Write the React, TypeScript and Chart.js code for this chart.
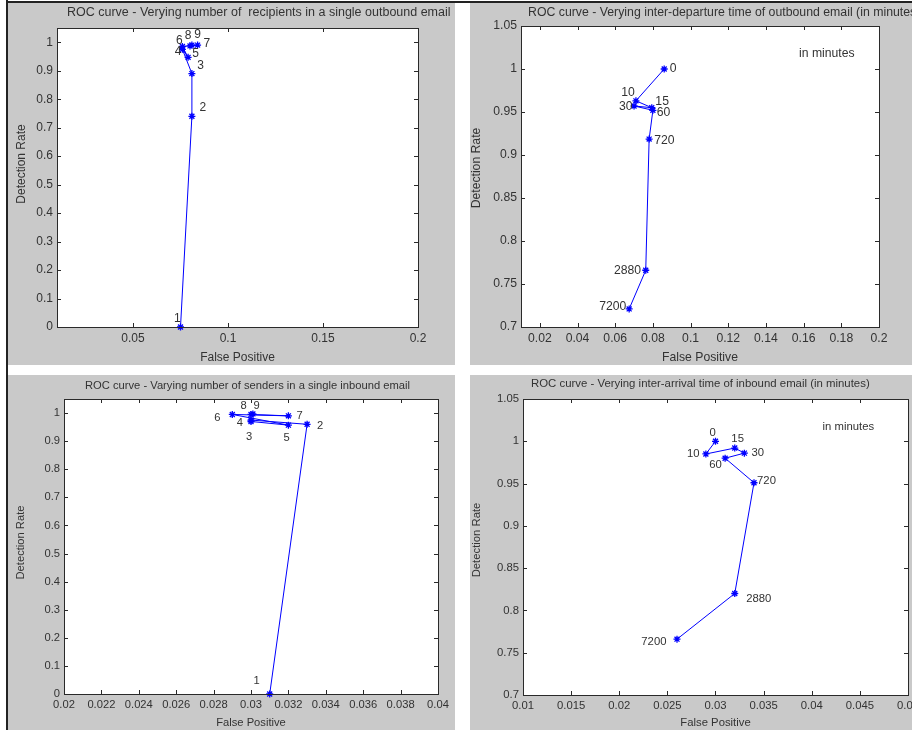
import React, { useEffect, useRef } from 'react';
import { Chart, registerables } from 'chart.js';

Chart.register(...registerables);

// ---------- Data ----------
// Panel 1: number of recipients in a single outbound email
const RECIP_LABELS = ['1', '2', '3', '4', '5', '6', '7', '8', '9'];
const RECIP_FP = [0.075, 0.081, 0.081, 0.076, 0.079, 0.076, 0.084, 0.080, 0.081];
const RECIP_DR = [0, 0.74, 0.89, 0.975, 0.947, 0.985, 0.99, 0.987, 0.99];
const RECIP_TEXT_FP = [0.0733, 0.0867, 0.0856, 0.0737, 0.083, 0.0744, 0.0888, 0.079, 0.084];
const RECIP_TEXT_DR = [0.03, 0.77, 0.916, 0.966, 0.96, 1.007, 0.994, 1.024, 1.027];

// Panel 2: inter-departure time of outbound email (minutes)
const DEP_LABELS = ['0', '10', '15', '30', '60', '720', '2880', '7200'];
const DEP_FP = [0.086, 0.071, 0.0794, 0.07, 0.08, 0.078, 0.0762, 0.0674];
const DEP_DR = [1.0, 0.963, 0.955, 0.957, 0.952, 0.9185, 0.766, 0.721];
const DEP_TEXT_FP = [0.0907, 0.0668, 0.0849, 0.0656, 0.0856, 0.0861, 0.0665, 0.0587];
const DEP_TEXT_DR = [1.001, 0.972, 0.962, 0.956, 0.949, 0.917, 0.766, 0.724];

// Panel 3: number of senders in a single inbound email
const SEND_LABELS = ['1', '2', '3', '4', '5', '6', '7', '8', '9'];
const SEND_FP = [0.031, 0.033, 0.03, 0.03, 0.032, 0.029, 0.032, 0.03, 0.0301];
const SEND_DR = [0, 0.96, 0.975, 0.97, 0.957, 0.995, 0.99, 0.995, 0.997];
const SEND_TEXT_FP = [0.0303, 0.0337, 0.0299, 0.0294, 0.0319, 0.0282, 0.0326, 0.0296, 0.0303];
const SEND_TEXT_DR = [0.046, 0.954, 0.914, 0.964, 0.911, 0.982, 0.99, 1.025, 1.025];

// Panel 4: inter-arrival time of inbound email (minutes)
const ARR_LABELS = ['0', '10', '15', '30', '60', '720', '2880', '7200'];
const ARR_FP = [0.03, 0.029, 0.032, 0.033, 0.031, 0.034, 0.032, 0.026];
const ARR_DR = [1.0, 0.985, 0.992, 0.986, 0.98, 0.951, 0.82, 0.766];
const ARR_TEXT_FP = [0.0297, 0.0277, 0.0323, 0.0344, 0.03, 0.0353, 0.0345, 0.0236];
const ARR_TEXT_DR = [1.0098, 0.9855, 1.003, 0.9866, 0.9724, 0.953, 0.814, 0.763];

// Tick values
const X_TICKS_A = [0.05, 0.1, 0.15, 0.2];
const X_TICKS_B = [0.02, 0.04, 0.06, 0.08, 0.1, 0.12, 0.14, 0.16, 0.18, 0.2];
const X_TICKS_C = [0.02, 0.022, 0.024, 0.026, 0.028, 0.03, 0.032, 0.034, 0.036, 0.038, 0.04];
const X_TICKS_D = [0.01, 0.015, 0.02, 0.025, 0.03, 0.035, 0.04, 0.045, 0.05];
const Y_TICKS_FULL = [0, 0.1, 0.2, 0.3, 0.4, 0.5, 0.6, 0.7, 0.8, 0.9, 1];
const Y_TICKS_TOP = [0.7, 0.75, 0.8, 0.85, 0.9, 0.95, 1, 1.05];

const NOTE_TEXT = 'in minutes';
const X_TITLE = 'False Positive';
const Y_TITLE = 'Detection Rate';

// ---------- Styles ----------
const FONT_FAMILY = '"Liberation Sans", Arial, Helvetica, sans-serif';
const TEXT_COLOR = '#333333';
const LINE_COLOR = '#0000ff';
const GRAY = '#c9c9c9';

type PanelCfg = {
  left: number; top: number; w: number; h: number;
  area: { l: number; r: number; t: number; b: number };
  title: string; titleX: number; titleY: number; titleSize: number;
  fontSize: number;
  xMin: number; xMax: number; yMin: number; yMax: number;
  xTicks: number[]; yTicks: number[];
  xs: number[]; ys: number[]; labels: string[]; lx: number[]; ly: number[];
  note?: { x: number; y: number };
  yTitleX: number; yTitleY: number; xTitlePad: number;
};

const PANELS: PanelCfg[] = [
  {
    left: 8, top: 3, w: 447, h: 362,
    area: { l: 49, r: 410, t: 25, b: 324 },
    title: 'ROC curve - Verying number of  recipients in a single outbound email',
    titleX: 59, titleY: 10, titleSize: 12.5, fontSize: 12,
    xMin: 0.01, xMax: 0.2, yMin: 0, yMax: 1.05,
    xTicks: X_TICKS_A, yTicks: Y_TICKS_FULL,
    xs: RECIP_FP, ys: RECIP_DR, labels: RECIP_LABELS, lx: RECIP_TEXT_FP, ly: RECIP_TEXT_DR,
    yTitleX: 13.7, yTitleY: 161, xTitlePad: 5.8,
  },
  {
    left: 470, top: 3, w: 460, h: 362,
    area: { l: 51, r: 409, t: 23, b: 324 },
    title: 'ROC curve - Verying inter-departure time of outbound email (in minutes)',
    titleX: 58, titleY: 10, titleSize: 12.3, fontSize: 12.2,
    xMin: 0.01, xMax: 0.2, yMin: 0.7, yMax: 1.05,
    xTicks: X_TICKS_B, yTicks: Y_TICKS_TOP,
    xs: DEP_FP, ys: DEP_DR, labels: DEP_LABELS, lx: DEP_TEXT_FP, ly: DEP_TEXT_DR,
    note: { x: 0.1723, y: 1.0175 },
    yTitleX: 7, yTitleY: 165, xTitlePad: 3.8,
  },
  {
    left: 8, top: 375, w: 447, h: 355,
    area: { l: 56, r: 430, t: 24, b: 319 },
    title: 'ROC curve - Varying number of senders in a single inbound email',
    titleX: 77, titleY: 11, titleSize: 11.2, fontSize: 11.2,
    xMin: 0.02, xMax: 0.04, yMin: 0, yMax: 1.05,
    xTicks: X_TICKS_C, yTicks: Y_TICKS_FULL,
    xs: SEND_FP, ys: SEND_DR, labels: SEND_LABELS, lx: SEND_TEXT_FP, ly: SEND_TEXT_DR,
    yTitleX: 12.7, yTitleY: 167.5, xTitlePad: 2.2,
  },
  {
    left: 470, top: 375, w: 460, h: 355,
    area: { l: 53, r: 438, t: 24, b: 320 },
    title: 'ROC curve - Verying inter-arrival time of inbound email (in minutes)',
    titleX: 61, titleY: 8.5, titleSize: 11.4, fontSize: 11.3,
    xMin: 0.01, xMax: 0.05, yMin: 0.7, yMax: 1.05,
    xTicks: X_TICKS_D, yTicks: Y_TICKS_TOP,
    xs: ARR_FP, ys: ARR_DR, labels: ARR_LABELS, lx: ARR_TEXT_FP, ly: ARR_TEXT_DR,
    note: { x: 0.0438, y: 1.017 },
    yTitleX: 7, yTitleY: 165, xTitlePad: 1.4,
  },
];

const fmt = (v: number) => String(Number(Number(v).toFixed(4)));

function Panel({ cfg }: { cfg: PanelCfg }) {
  const ref = useRef<HTMLCanvasElement | null>(null);

  useEffect(() => {
    const canvas = ref.current;
    if (!canvas) return;
    const font = { size: cfg.fontSize, family: FONT_FAMILY };

    const framePlugin = {
      id: 'matlabFrame',
      beforeDraw(chart: any) {
        const { ctx, chartArea: a } = chart;
        ctx.save();
        ctx.fillStyle = '#ffffff';
        ctx.fillRect(a.left, a.top, a.right - a.left, a.bottom - a.top);
        ctx.restore();
      },
      afterDraw(chart: any) {
        const { ctx, chartArea: a, scales } = chart;
        const xs = scales.x;
        const ys = scales.y;
        ctx.save();
        // box
        ctx.strokeStyle = '#2a2a2a';
        ctx.lineWidth = 1;
        ctx.strokeRect(Math.round(a.left) + 0.5, Math.round(a.top) + 0.5,
          Math.round(a.right - a.left), Math.round(a.bottom - a.top));
        // inward ticks on all four sides
        const TL = 4;
        ctx.beginPath();
        for (const v of cfg.xTicks) {
          const px = Math.round(xs.getPixelForValue(v)) + 0.5;
          ctx.moveTo(px, a.bottom); ctx.lineTo(px, a.bottom - TL);
          ctx.moveTo(px, a.top); ctx.lineTo(px, a.top + TL);
        }
        for (const v of cfg.yTicks) {
          const py = Math.round(ys.getPixelForValue(v)) + 0.5;
          ctx.moveTo(a.left, py); ctx.lineTo(a.left + TL, py);
          ctx.moveTo(a.right, py); ctx.lineTo(a.right - TL, py);
        }
        ctx.stroke();

        // point labels
        ctx.fillStyle = TEXT_COLOR;
        ctx.font = `${cfg.fontSize}px ${FONT_FAMILY}`;
        ctx.textAlign = 'center';
        ctx.textBaseline = 'middle';
        cfg.labels.forEach((t, i) => {
          ctx.fillText(t, xs.getPixelForValue(cfg.lx[i]), ys.getPixelForValue(cfg.ly[i]));
        });
        if (cfg.note) {
          ctx.fillText(NOTE_TEXT, xs.getPixelForValue(cfg.note.x), ys.getPixelForValue(cfg.note.y));
        }

        // y axis title (rotated)
        ctx.save();
        ctx.translate(cfg.yTitleX, cfg.yTitleY);
        ctx.rotate(-Math.PI / 2);
        ctx.fillText(Y_TITLE, 0, 0);
        ctx.restore();

        // chart title
        ctx.font = `${cfg.titleSize}px ${FONT_FAMILY}`;
        ctx.textAlign = 'left';
        ctx.fillText(cfg.title, cfg.titleX, cfg.titleY);
        ctx.restore();
      },
    };

    const chart = new Chart(canvas, {
      type: 'scatter',
      data: {
        datasets: [
          {
            data: cfg.xs.map((x, i) => ({ x, y: cfg.ys[i] })),
            showLine: true,
            borderColor: LINE_COLOR,
            backgroundColor: LINE_COLOR,
            borderWidth: 1,
            pointStyle: 'star',
            pointRadius: 3.5,
            pointBorderWidth: 1.3,
            pointBorderColor: LINE_COLOR,
            tension: 0,
            clip: false as any,
          } as any,
        ],
      },
      options: {
        responsive: false,
        animation: false,
        devicePixelRatio: 1,
        events: [],
        layout: {
          padding: { left: 0, top: cfg.area.t, right: cfg.w - cfg.area.r, bottom: 0 },
        },
        plugins: {
          legend: { display: false },
          tooltip: { enabled: false },
          title: { display: false },
        },
        scales: {
          x: {
            type: 'linear',
            min: cfg.xMin,
            max: cfg.xMax,
            grid: { display: false, drawTicks: false },
            border: { display: false },
            afterBuildTicks: (s: any) => { s.ticks = cfg.xTicks.map((v) => ({ value: v })); },
            afterFit: (s: any) => { s.height = cfg.h - cfg.area.b; },
            ticks: {
              autoSkip: false,
              maxRotation: 0,
              minRotation: 0,
              padding: 4,
              color: TEXT_COLOR,
              font,
              callback: (v: any) => fmt(v),
            },
            title: {
              display: true,
              text: X_TITLE,
              color: TEXT_COLOR,
              font,
              padding: { top: cfg.xTitlePad, bottom: 0 },
            },
          },
          y: {
            type: 'linear',
            min: cfg.yMin,
            max: cfg.yMax,
            grid: { display: false, drawTicks: false },
            border: { display: false },
            afterBuildTicks: (s: any) => { s.ticks = cfg.yTicks.map((v) => ({ value: v })); },
            afterFit: (s: any) => { s.width = cfg.area.l; },
            ticks: {
              autoSkip: false,
              padding: 4,
              color: TEXT_COLOR,
              font,
              callback: (v: any) => fmt(v),
            },
            title: { display: false },
          },
        },
      } as any,
      plugins: [framePlugin],
    });

    return () => chart.destroy();
  }, [cfg]);

  return (
    <div
      style={{
        position: 'absolute',
        left: cfg.left,
        top: cfg.top,
        width: cfg.w,
        height: cfg.h,
        background: GRAY,
      }}
    >
      <canvas ref={ref} width={cfg.w} height={cfg.h} style={{ display: 'block', width: cfg.w, height: cfg.h }} />
    </div>
  );
}

export default function App() {
  return (
    <div
      style={{
        position: 'absolute',
        left: 0,
        top: 0,
        width: 912,
        height: 730,
        overflow: 'hidden',
        background: '#ffffff',
      }}
    >
      <div style={{ position: 'absolute', left: 6, top: 0, width: 2, height: 730, background: '#222' }} />
      <div style={{ position: 'absolute', left: 6, top: 1, width: 906, height: 2, background: '#222' }} />
      {PANELS.map((p, i) => (
        <Panel key={i} cfg={p} />
      ))}
    </div>
  );
}
